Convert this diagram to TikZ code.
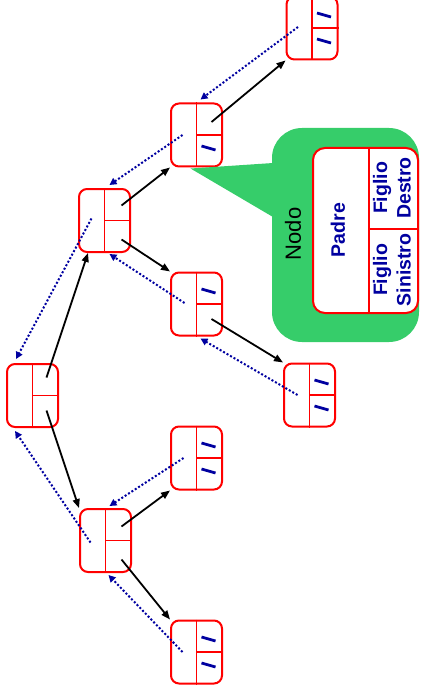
\documentclass[tikz,border=0pt]{standalone}
\usepackage{fontspec}
\setmainfont{Liberation Sans}
\usetikzlibrary{arrows.meta,calc}
\definecolor{verde}{RGB}{54,205,106}
\definecolor{blu}{RGB}{0,0,160}

\begin{document}
\begin{tikzpicture}[
	x=1pt,
	y=-1pt,
	nodo/.style={draw=red,line width=2pt,rounded corners=8pt,minimum width=51pt,minimum height=63pt,inner sep=0pt},
	riga/.style={draw=red,line width=1.8pt},
	figlio/.style={-{Triangle[length=9pt,width=7pt]},line width=1.8pt},
	padre/.style={-{Triangle[length=7pt,width=7pt]},blu,line width=2pt,dash pattern=on 2pt off 2pt},
	nil/.style={blu,line width=2.8pt},
	campo/.style={text=blu,font=\fontsize{19.5}{23.5}\selectfont\bfseries,align=center,rotate=90}
	]
	\useasboundingbox (0,0) rectangle (420,695);

	\node[nodo] (N1) at (32.5,395.5) {};
	\node[nodo] (N2) at (104.5,220.5) {};
	\node[nodo] (N3) at (105.5,540.5) {};
	\node[nodo] (N4) at (196.5,135) {};
	\node[nodo] (N5) at (196.5,304) {};
	\node[nodo] (N6) at (196.5,458) {};
	\node[nodo] (N7) at (196.5,652) {};
	\node[nodo] (N8) at (312,28) {};
	\node[nodo] (N9) at (309.5,395) {};

	% fumetto
	\fill[verde,rounded corners=30pt] (272,128) rectangle (419,342);
	\fill[verde] ($(N4.south)+(-6,1)$) -- (273,163) -- (273,217) -- cycle;
	\node[nodo,fill=white,rounded corners=12pt,minimum width=105pt,minimum height=165pt] (Nodo) at (365.5,230.5) {};
	\draw[riga] ($(Nodo.north)+(3.5,0)$) -- ($(Nodo.south)+(3.5,0)$);
	\draw[riga] ($(Nodo.center)+(3.5,-1.5)$) -- ($(Nodo.east)+(0,-1.5)$);
	\node[campo] (padre) at (338,230) {Padre};
	\node[campo] (destro) at (392,188) {Figlio\\Destro};
	\node[campo] (sinistro) at (392,270) {Figlio\\Sinistro};
	\node[rotate=90,font=\fontsize{22}{26}\selectfont] (etichetta) at (293,234) {Nodo};

	\foreach \n in {N1,N2,N3,N4,N5,N6,N7,N8,N9}
		\draw[riga] (\n.north) -- (\n.south) (\n.center) -- (\n.east);

	% puntatori ai figli
	\draw[figlio] ($(N1)+(14,-18)$) -- ($(N2.south west)+(10,0)$);
	\draw[figlio] ($(N1)+(14,15)$) -- (N3.north west);
	\draw[figlio] ($(N2)+(17,-15)$) -- (N4.south west);
	\draw[figlio] ($(N2)+(17,19)$) -- (N5.north west);
	\draw[figlio] ($(N3)+(16,-14)$) -- (N6.south west);
	\draw[figlio] ($(N3)+(16,19)$) -- (N7.north west);
	\draw[figlio] ($(N4)+(15,-13)$) -- (N8.south west);
	\draw[figlio] ($(N5)+(15,15)$) -- (N9.north west);

	% puntatori al padre
	\draw[padre] ($(N2)+(-13,-2)$) -- ($(N1.north west)+(10,-4)$);
	\draw[padre] ($(N3)+(-15,2)$) -- ($(N1.south west)+(9,3)$);
	\draw[padre] ($(N4)+(-14,0)$) -- ($(N2.north)+(5,-3)$);
	\draw[padre] ($(N5)+(-12,-1)$) -- ($(N2.south)+(5,1)$);
	\draw[padre] ($(N6)+(-13,0)$) -- ($(N3.north)+(4,-2)$);
	\draw[padre] ($(N7)+(-14,0)$) -- ($(N3.south)+(3,2)$);
	\draw[padre] ($(N8)+(-14,-1)$) -- ($(N4.north)+(4,-3)$);
	\draw[padre] ($(N9)+(-12,0)$) -- ($(N5.south)+(4,2)$);

	% figli nulli
	\foreach \n in {N5,N6,N7,N8,N9}
		\draw[nil] ($(\n)+(5,-15)$) -- ($(\n)+(19,-11)$);
	\foreach \n in {N4,N6,N7,N8,N9}
		\draw[nil] ($(\n)+(5,11)$) -- ($(\n)+(19,15)$);
\end{tikzpicture}
\end{document}
